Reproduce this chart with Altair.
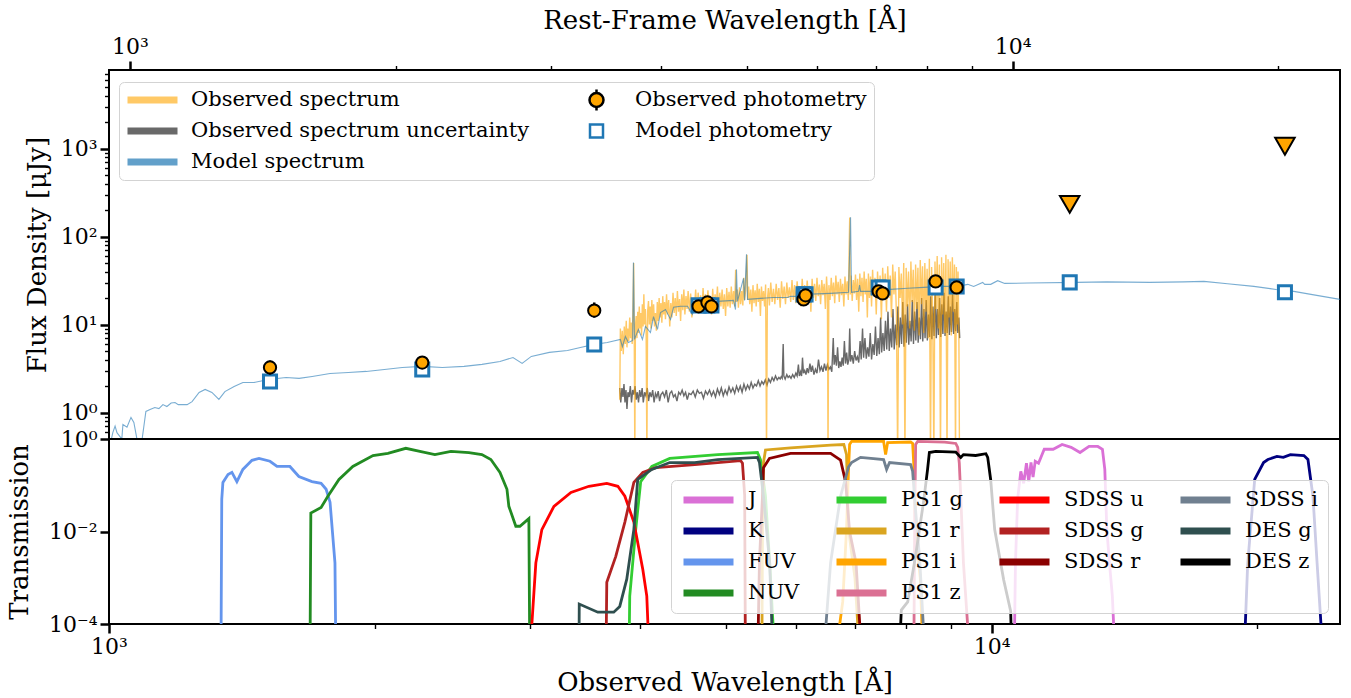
import altair as alt
import pandas as pd

FONT = "DejaVu Serif"
REDSHIFT = 0.056
WAVE_RANGE = [1000, 24810]
FLUX_RANGE = [0.5, 7800]
TRANS_RANGE = [1e-4, 1.0]

# ---------------- spectra (wavelength [Å], flux density [μJy]) ----------------
obs_spectrum = [
    (3790, 1.4), (3796, 9.0), (3805, 5.0), (3815, 8.5), (3825, 4.6), (3835, 9.5), (3845, 6.0),
    (3855, 11.0), (3862, 5.5), (3870, 9.0), (3880, 6.5), (3890, 12.0), (3898, 7.0), (3905, 10.5),
    (3915, 6.0), (3922, 13.0), (3930, 50.0), (3936, 8.0), (3942, 0.3), (3948, 9.5), (3956, 12.5),
    (3964, 7.0), (3972, 14.0), (3980, 8.0), (3988, 16.0), (3996, 9.0), (4004, 13.5), (4012, 7.5),
    (4020, 17.0), (4028, 9.5), (4036, 22.0), (4044, 10.0), (4052, 15.0), (4060, 8.5), (4068, 0.3),
    (4076, 14.0), (4085, 18.5), (4094, 10.0), (4103, 16.0), (4112, 9.0), (4121, 19.0), (4130, 11.0),
    (4140, 17.0), (4150, 9.5), (4160, 13.5), (4170, 8.5), (4180, 18.0), (4190, 11.0), (4200, 20.0),
    (4210, 12.0), (4220, 17.5), (4230, 10.5), (4240, 21.0), (4250, 13.0), (4260, 18.0), (4270, 11.5),
    (4282, 22.0), (4294, 13.0), (4306, 19.0), (4318, 9.5), (4330, 17.5), (4342, 12.0), (4355, 23.0),
    (4368, 13.5), (4380, 20.0), (4392, 12.5), (4405, 24.0), (4418, 14.0), (4430, 19.5), (4442, 11.0),
    (4455, 22.0), (4468, 14.5), (4480, 25.0), (4492, 13.0), (4505, 21.0), (4518, 15.0), (4530, 24.0),
    (4545, 14.0), (4560, 22.5), (4575, 12.0), (4590, 20.0), (4605, 15.5), (4620, 25.0), (4635, 14.0),
    (4650, 23.0), (4665, 15.0), (4680, 21.5), (4695, 13.5), (4710, 26.0), (4725, 15.5), (4740, 22.0),
    (4755, 14.0), (4770, 24.5), (4785, 16.0), (4800, 21.0), (4815, 13.0), (4830, 25.5), (4845, 15.0),
    (4860, 22.0), (4875, 16.5), (4890, 27.0), (4905, 14.5), (4920, 23.0), (4935, 16.0), (4950, 25.0),
    (4965, 15.0), (4980, 22.0), (4995, 12.5), (5010, 26.0), (5025, 16.0), (5040, 23.5), (5055, 15.5),
    (5070, 27.0), (5085, 17.0), (5100, 24.0), (5115, 16.0), (5128, 42.0), (5135, 18.0), (5150, 25.0),
    (5165, 15.5), (5180, 26.5), (5195, 17.0), (5210, 24.0), (5225, 16.5), (5238, 34.0), (5250, 19.0),
    (5264, 25.0), (5282, 62.0), (5292, 19.0), (5305, 27.0), (5320, 17.0), (5335, 25.0), (5350, 14.0),
    (5365, 28.0), (5380, 17.5), (5395, 24.5), (5410, 16.0), (5425, 29.0), (5440, 18.0), (5455, 25.5),
    (5470, 12.5), (5485, 27.0), (5500, 18.5), (5515, 24.0), (5530, 16.0), (5545, 28.5), (5558, 0.3),
    (5570, 19.0), (5585, 26.0), (5600, 16.5), (5620, 30.0), (5640, 18.0), (5660, 25.5), (5680, 17.0),
    (5700, 29.0), (5720, 19.0), (5740, 26.0), (5760, 15.5), (5780, 31.0), (5800, 19.5), (5820, 27.0),
    (5840, 17.0), (5860, 30.0), (5880, 20.0), (5900, 26.5), (5920, 18.0), (5940, 32.0), (5960, 19.0),
    (5980, 28.0), (6000, 17.5), (6020, 31.0), (6040, 20.0), (6060, 27.0), (6080, 16.0), (6100, 33.0),
    (6120, 20.5), (6140, 28.0), (6160, 18.0), (6180, 31.5), (6200, 21.0), (6220, 27.5), (6240, 14.0),
    (6260, 33.0), (6280, 20.0), (6300, 29.0), (6320, 18.5), (6340, 34.0), (6360, 21.0), (6380, 28.5),
    (6400, 17.0), (6420, 32.0), (6440, 21.5), (6460, 29.0), (6480, 15.0), (6500, 35.0), (6515, 22.0),
    (6525, 0.3), (6540, 28.0), (6560, 19.0), (6580, 34.0), (6600, 21.0), (6620, 30.0), (6640, 17.5),
    (6660, 36.0), (6680, 22.0), (6700, 30.5), (6720, 18.0), (6740, 33.0), (6760, 21.5), (6780, 29.0),
    (6800, 16.0), (6820, 35.0), (6840, 22.0), (6860, 31.0), (6880, 19.0), (6905, 164.0), (6915, 22.0),
    (6930, 36.0), (6950, 18.5), (6970, 32.0), (6990, 22.5), (7010, 37.0), (7030, 19.0), (7050, 33.0),
    (7070, 14.0), (7090, 38.0), (7110, 21.0), (7130, 34.0), (7150, 18.0), (7170, 40.0), (7190, 22.0),
    (7210, 33.0), (7230, 12.0), (7250, 38.0), (7270, 20.0), (7290, 35.0), (7310, 16.0), (7330, 42.0),
    (7350, 21.0), (7375, 34.0), (7400, 13.0), (7425, 40.0), (7450, 20.0), (7475, 36.0), (7500, 11.5),
    (7525, 44.0), (7550, 21.0), (7575, 38.0), (7600, 14.0), (7625, 46.0), (7650, 20.0), (7675, 36.0),
    (7700, 12.0), (7725, 48.0), (7750, 22.0), (7775, 40.0), (7800, 13.0), (7825, 0.3), (7850, 45.0),
    (7875, 20.0), (7900, 38.0), (7925, 10.0), (7950, 50.0), (7975, 0.3), (8000, 44.0), (8025, 16.0),
    (8050, 40.0), (8075, 9.0), (8100, 52.0), (8125, 18.0), (8150, 42.0), (8175, 8.5), (8200, 48.0),
    (8225, 15.0), (8250, 44.0), (8275, 7.5), (8300, 54.0), (8325, 17.0), (8350, 46.0), (8375, 8.0),
    (8400, 50.0), (8425, 14.0), (8450, 43.0), (8475, 7.0), (8500, 56.0), (8525, 0.3), (8550, 45.0),
    (8575, 12.0), (8600, 0.3), (8625, 52.0), (8650, 15.0), (8675, 60.0), (8700, 9.0), (8725, 48.0),
    (8750, 0.3), (8775, 58.0), (8800, 13.0), (8825, 50.0), (8850, 8.0), (8875, 62.0), (8900, 0.3),
    (8925, 55.0), (8950, 12.0), (8975, 52.0), (9000, 7.5), (9025, 58.0), (9050, 14.0), (9075, 48.0),
    (9100, 0.3), (9120, 45.0), (9140, 10.0), (9160, 40.0), (9180, 8.0), (9195, 0.3),
]

obs_uncertainty = [
    (3790, 1.9), (3800, 1.3), (3812, 1.9), (3822, 1.5), (3832, 2.1), (3842, 1.3), (3852, 1.8),
    (3862, 1.1), (3872, 1.7), (3884, 1.5), (3896, 2.0), (3908, 1.3), (3920, 1.8), (3932, 1.6),
    (3944, 2.0), (3956, 1.4), (3968, 1.7), (3980, 1.3), (3992, 1.8), (4005, 1.5), (4018, 1.9),
    (4030, 1.3), (4044, 1.7), (4058, 1.55), (4072, 1.9), (4086, 1.35), (4100, 1.7), (4115, 1.5),
    (4130, 1.8), (4145, 1.3), (4160, 1.65), (4175, 1.5), (4190, 1.75), (4205, 1.35), (4220, 1.6),
    (4240, 1.7), (4260, 1.5), (4280, 1.8), (4300, 1.3), (4320, 1.65), (4340, 1.75), (4360, 1.5),
    (4380, 1.6), (4400, 1.35), (4420, 1.7), (4440, 1.6), (4460, 1.8), (4480, 1.55), (4500, 1.7),
    (4520, 1.4), (4540, 1.65), (4565, 1.6), (4590, 1.75), (4615, 1.5), (4640, 1.8), (4665, 1.65),
    (4690, 1.7), (4715, 1.45), (4740, 1.75), (4765, 1.6), (4790, 1.8), (4815, 1.55), (4840, 1.75),
    (4865, 1.5), (4890, 1.85), (4915, 1.6), (4940, 1.9), (4965, 1.55), (4990, 1.8), (5015, 1.6),
    (5040, 1.95), (5065, 1.7), (5090, 1.9), (5115, 1.65), (5140, 2.0), (5165, 1.75), (5190, 2.0),
    (5215, 1.7), (5240, 2.1), (5265, 1.8), (5290, 2.05), (5315, 1.85), (5340, 2.2), (5365, 1.9),
    (5390, 2.1), (5415, 2.0), (5440, 2.3), (5465, 2.0), (5490, 2.25), (5515, 2.1), (5540, 2.35),
    (5565, 2.05), (5590, 2.4), (5615, 2.2), (5640, 2.5), (5665, 2.3), (5690, 2.6), (5715, 2.35),
    (5740, 2.5), (5760, 2.4), (5775, 2.55), (5790, 2.45), (5805, 6.0), (5815, 2.6), (5835, 2.4),
    (5860, 2.7), (5880, 2.5), (5900, 2.6), (5925, 2.45), (5950, 2.7), (5975, 2.5), (6000, 2.8),
    (6020, 2.6), (6040, 3.5), (6055, 2.6), (6075, 2.9), (6090, 2.6), (6105, 4.2), (6120, 2.8),
    (6140, 3.0), (6160, 2.7), (6180, 3.2), (6200, 2.8), (6225, 3.6), (6245, 2.9), (6265, 3.4),
    (6290, 2.7), (6315, 3.1), (6340, 2.8), (6365, 4.0), (6390, 3.0), (6415, 3.3), (6440, 2.9),
    (6465, 3.6), (6490, 3.0), (6515, 3.5), (6540, 3.1), (6565, 3.3), (6590, 2.9), (6615, 7.0),
    (6630, 3.5), (6650, 4.5), (6670, 3.4), (6690, 5.5), (6710, 3.2), (6730, 3.8), (6750, 3.3),
    (6770, 4.2), (6790, 3.4), (6810, 6.5), (6830, 3.6), (6850, 4.8), (6870, 3.5), (6890, 4.0),
    (6905, 9.0), (6920, 3.8), (6945, 4.5), (6970, 3.6), (6995, 5.0), (7020, 3.9), (7045, 4.3),
    (7070, 3.7), (7095, 6.5), (7115, 4.0), (7140, 9.0), (7160, 4.2), (7185, 7.0), (7210, 4.1),
    (7235, 5.5), (7260, 4.3), (7285, 8.0), (7310, 4.0), (7335, 6.0), (7360, 4.5), (7385, 9.5),
    (7410, 4.4), (7435, 7.0), (7460, 4.6), (7485, 12.0), (7505, 4.8), (7530, 8.0), (7555, 5.0),
    (7580, 11.0), (7605, 5.2), (7630, 14.0), (7655, 5.0), (7680, 9.0), (7705, 5.5), (7730, 15.0),
    (7755, 5.2), (7780, 10.0), (7805, 5.8), (7830, 16.0), (7855, 5.5), (7880, 12.0), (7905, 6.0),
    (7930, 18.0), (7955, 5.6), (7980, 13.0), (8005, 6.2), (8030, 17.0), (8055, 5.9), (8080, 11.0),
    (8105, 6.4), (8130, 19.0), (8155, 6.0), (8180, 14.0), (8205, 6.6), (8230, 18.0), (8255, 6.2),
    (8280, 12.0), (8305, 6.8), (8330, 20.0), (8355, 6.4), (8380, 15.0), (8405, 7.0), (8430, 19.0),
    (8455, 6.6), (8480, 13.0), (8505, 7.2), (8530, 21.0), (8555, 6.8), (8580, 16.0), (8605, 7.4),
    (8630, 22.0), (8655, 7.0), (8680, 15.0), (8705, 7.6), (8730, 20.0), (8755, 7.2), (8780, 17.0),
    (8805, 7.8), (8830, 23.0), (8855, 7.4), (8880, 14.0), (8905, 8.0), (8930, 21.0), (8955, 7.6),
    (8980, 16.0), (9005, 8.2), (9030, 22.0), (9055, 7.8), (9080, 15.0), (9105, 8.4), (9130, 18.0),
    (9155, 8.0), (9180, 12.0), (9200, 7.0),
]

model_spectrum = [
    (1000, 0.38), (1010, 0.59), (1016, 0.70), (1021, 0.59), (1034, 0.50), (1037, 0.73), (1048, 0.68),
    (1059, 0.88), (1067, 0.77), (1076, 0.49), (1090, 0.49), (1101, 1.03), (1113, 1.08), (1127, 1.14),
    (1139, 1.11), (1151, 1.23), (1163, 1.17), (1176, 1.28), (1188, 1.30), (1198, 1.23), (1226, 1.23),
    (1242, 1.33), (1265, 1.69), (1285, 1.83), (1308, 1.69), (1332, 1.41), (1353, 1.73), (1386, 1.98),
    (1418, 2.19), (1460, 2.19), (1515, 2.37), (1587, 2.50), (1642, 2.44), (1699, 2.57), (1780, 2.78),
    (1867, 2.85), (1956, 2.93), (2051, 3.08), (2149, 3.25), (2264, 3.34), (2386, 3.25), (2525, 3.34),
    (2646, 3.52), (2773, 3.80), (2869, 4.22), (2938, 3.61), (3009, 4.34), (3154, 4.82), (3307, 5.07),
    (3420, 5.49), (3547, 5.94), (3668, 6.25), (3796, 6.77), (3816, 5.6), (3846, 7.3), (3876, 6.25),
    (3920, 6.6), (3928, 50.8), (3938, 6.77), (3979, 8.8), (4021, 6.77), (4053, 9.5), (4106, 8.1),
    (4139, 12.3), (4182, 8.8), (4215, 13.7), (4271, 14.8), (4327, 11.4), (4361, 15.7), (4441, 16.1),
    (4523, 16.1), (4581, 13.0), (4617, 16.5), (4890, 18.3), (5099, 18.8), (5126, 14.8), (5139, 42.3),
    (5152, 18.3), (5234, 33.5), (5248, 18.8), (5275, 62.7), (5289, 19.3), (5471, 19.8), (5660, 20.3),
    (5871, 20.3), (5918, 20.9), (6075, 20.9), (6122, 22.0), (6569, 22.6), (6884, 23.2), (6920, 165.0),
    (6938, 23.2), (7066, 23.8), (7085, 28.0), (7103, 23.8), (7425, 23.8), (7682, 25.1), (8033, 25.8),
    (8376, 26.4), (8754, 27.1), (9152, 27.1), (9395, 28.6), (9541, 27.1), (9768, 30.1), (9820, 28.6),
    (9975, 28.6), (10158, 31.5), (10345, 29.3), (11000, 29.6), (12485, 30.1), (13500, 30.5),
    (15107, 30.1), (16500, 30.5), (17396, 30.9), (18500, 29.0), (19815, 27.1), (21000, 25.0),
    (21995, 23.8), (23000, 22.0), (24810, 19.3),
]

# ---------------- photometry ----------------
phot_bands = ["FUV", "NUV", "SDSS u", "SDSS g", "DES g", "PS1 g", "SDSS r", "PS1 r",
              "SDSS i", "PS1 i", "PS1 z", "DES z"]
phot_wave = [1522, 2264, 3546, 4655, 4764, 4814, 6122, 6154, 7446, 7524, 8640, 9127]
phot_flux = [3.25, 3.70, 14.4, 16.1, 17.8, 16.1, 19.3, 21.5, 23.8, 22.6, 30.9, 26.4]
phot_lo = [2.7, 3.25, 12.0, 15.3, 17.0, 15.3, 18.4, 20.6, 22.7, 21.6, 29.5, 25.2]
phot_hi = [3.9, 4.2, 17.8, 16.9, 18.6, 16.9, 20.2, 22.4, 24.9, 23.6, 32.3, 27.6]

limit_bands = ["J", "K"]
limit_wave = [12258, 21490]
limit_flux = [232, 1062]

model_phot_wave = phot_wave + limit_wave
model_phot_flux = [2.25, 3.08, 5.94, 16.5, 16.5, 16.5, 22.0, 22.0, 26.4, 26.4, 26.4, 27.1, 30.1, 23.2]

# ---------------- filter transmission curves (wavelength [Å], transmission) ----------------
filters = {
    "J": [(10600, 1e-5), (10640, 0.002), (10700, 0.05), (10790, 0.2), (10870, 0.11), (10950, 0.3),
          (11015, 0.12), (11080, 0.31), (11140, 0.15), (11203, 0.33), (11300, 0.30), (11470, 0.60),
          (11740, 0.60), (12017, 0.76), (12303, 0.66), (12593, 0.51), (12892, 0.69), (13190, 0.69),
          (13350, 0.60), (13433, 0.22), (13504, 0.011), (13600, 0.002), (13700, 4e-4), (13820, 1e-5)],
    "K": [(19290, 1e-5), (19500, 0.002), (19860, 0.134), (20326, 0.31), (20557, 0.36), (21047, 0.42),
          (21400, 0.40), (21800, 0.46), (22580, 0.44), (22820, 0.36), (23120, 0.058), (23370, 0.0021),
          (23790, 1e-5)],
    "FUV": [(1339, 1e-5), (1342, 0.05), (1346, 0.115), (1364, 0.17), (1378, 0.19), (1396, 0.12),
            (1418, 0.22), (1452, 0.345), (1479, 0.38), (1522, 0.33), (1550, 0.255), (1603, 0.255),
            (1641, 0.155), (1698, 0.12), (1739, 0.11), (1762, 0.082), (1780, 0.043), (1803, 0.0021),
            (1808, 1e-5)],
    "NUV": [(1689, 1e-5), (1693, 0.025), (1739, 0.033), (1770, 0.058), (1822, 0.134), (1889, 0.255),
            (1991, 0.44), (2070, 0.49), (2169, 0.63), (2250, 0.54), (2340, 0.46), (2440, 0.54),
            (2557, 0.51), (2645, 0.46), (2708, 0.36), (2773, 0.19), (2824, 0.082), (2838, 0.035),
            (2890, 0.013), (2921, 0.013), (2990, 0.019), (2998, 1e-5)],
    "PS1 g": [(3881, 1e-5), (3890, 4e-4), (3951, 0.011), (4003, 0.12), (4121, 0.255), (4318, 0.38),
              (4894, 0.46), (5428, 0.51), (5471, 0.36), (5543, 0.058), (5604, 0.0021), (5690, 1e-5)],
    "PS1 r": [(5490, 1e-5), (5500, 0.011), (5514, 0.31), (5543, 0.58), (5918, 0.64), (6569, 0.74),
              (6800, 0.76), (6848, 0.46), (6884, 0.011), (7000, 0.001), (7103, 1e-5)],
    "PS1 i": [(6620, 1e-5), (6780, 3e-4), (6848, 0.011), (6884, 0.22), (6903, 0.76), (6940, 0.89),
              (7543, 0.89), (7583, 0.46), (7623, 0.84), (8094, 0.86), (8137, 0.80), (8160, 0.30),
              (8201, 0.01), (8300, 0.001), (8372, 1e-5)],
    "PS1 z": [(8160, 1e-5), (8180, 0.011), (8201, 0.76), (8245, 0.89), (8846, 0.86), (9106, 0.80),
              (9152, 0.66), (9190, 0.30), (9225, 0.058), (9290, 0.0021), (9467, 1e-5)],
    "SDSS u": [(2990, 1e-5), (3045, 0.0021), (3093, 0.011), (3192, 0.035), (3337, 0.07), (3497, 0.095),
               (3664, 0.11), (3771, 0.095), (3841, 0.058), (3932, 0.016), (4025, 0.0015), (4067, 4e-4),
               (4099, 1e-5)],
    "SDSS g": [(3655, 1e-5), (3664, 8e-4), (3751, 0.0029), (3841, 0.016), (3932, 0.115), (4025, 0.19),
               (4164, 0.24), (4609, 0.28), (5196, 0.34), (5220, 0.30), (5250, 0.06), (5261, 1e-5)],
    "SDSS r": [(5428, 1e-5), (5457, 0.0024), (5500, 0.058), (5514, 0.24), (5600, 0.38), (5918, 0.49),
               (6569, 0.49), (6742, 0.35), (6831, 0.12), (6903, 0.01), (7020, 0.0021), (7140, 1e-5)],
    "SDSS i": [(6433, 1e-5), (6569, 0.0021), (6742, 0.058), (6884, 0.25), (6939, 0.31), (7103, 0.40),
               (7543, 0.36), (7603, 0.22), (7662, 0.31), (8094, 0.28), (8137, 0.20), (8180, 0.05),
               (8288, 0.0025), (8420, 1e-5)],
    "DES g": [(3407, 1e-5), (3410, 2.7e-4), (3579, 1.8e-4), (3731, 1.8e-4), (3790, 2.4e-4), (3860, 9.3e-4),
              (3932, 0.011), (3972, 0.134), (4121, 0.22), (4318, 0.31), (4609, 0.31), (4894, 0.36),
              (5428, 0.40), (5457, 0.31), (5514, 0.058), (5604, 0.0021), (5660, 1e-5)],
    "DES z": [(7845, 1e-5), (7900, 2e-4), (8033, 3e-4), (8200, 0.003), (8380, 0.05), (8460, 0.22),
              (8500, 0.51), (8640, 0.54), (9106, 0.52), (9225, 0.40), (9290, 0.46), (9592, 0.44),
              (9850, 0.48), (9897, 0.40), (9975, 0.13), (10079, 0.011), (10318, 9e-4), (10508, 1.9e-4),
              (10550, 1e-5)],
}

filter_colors = {
    "J": "#DA70D6", "K": "#000080", "FUV": "#6495ED", "NUV": "#228B22",
    "PS1 g": "#32CD32", "PS1 r": "#DAA520", "PS1 i": "#FFA500", "PS1 z": "#DB7093",
    "SDSS u": "#FF0000", "SDSS g": "#B22222", "SDSS r": "#8B0000", "SDSS i": "#708090",
    "DES g": "#2F4F4F", "DES z": "#000000",
}
# order of the legend entries, chosen so that the vertical legend grid reads
# J, K, FUV, NUV down the first column, PS1 down the second, and so on
filter_legend_order = ["J", "K", "FUV", "DES z",
                       "PS1 g", "PS1 r", "PS1 i", "NUV",
                       "SDSS u", "SDSS g", "SDSS r", "PS1 z",
                       "SDSS i", "DES g"]

# ---------------- data frames ----------------
spec_df = pd.DataFrame(obs_spectrum, columns=["lam", "flux"])
unc_df = pd.DataFrame(obs_uncertainty, columns=["lam", "flux"])
model_df = pd.DataFrame(model_spectrum, columns=["lam", "flux"])
phot_df = pd.DataFrame({"band": phot_bands, "lam": phot_wave, "flux": phot_flux,
                        "lo": phot_lo, "hi": phot_hi})
model_phot_df = pd.DataFrame({"lam": model_phot_wave, "flux": model_phot_flux})
limit_df = pd.DataFrame({"band": limit_bands, "lam": limit_wave, "flux": limit_flux})
filt_df = pd.concat(
    [pd.DataFrame(pts, columns=["lam", "T"]).assign(filter=name) for name, pts in filters.items()],
    ignore_index=True,
)

# ---------------- axes ----------------
def power_labels(mapping):
    expr = ""
    for v, s in mapping.items():
        expr += f"datum.value === {v} ? '{s}' : "
    return expr + "''"


def major_minor(majors, major, minor):
    return {"condition": {"test": f"indexof({majors}, datum.value) >= 0", "value": major},
            "value": minor}


flux_majors = [1, 10, 100, 1000]
flux_ticks = [0.6, 0.7, 0.8, 0.9] + [m * d for d in flux_majors for m in range(1, 10) if m * d <= 7000]
flux_axis = alt.Axis(
    values=flux_ticks,
    labelExpr=power_labels({1: "10⁰", 10: "10¹", 100: "10²", 1000: "10³"}),
    tickSize=major_minor(flux_majors, 9, 4.5),
    tickWidth=major_minor(flux_majors, 2.5, 1.4),
    title="Flux Density [μJy]", titleX=-72, titleBaseline="middle",
)

wave_majors = [1000, 10000]
wave_ticks = [1000 * m for m in range(1, 10)] + [10000, 20000]
wave_labels = power_labels({1000: "10³", 10000: "10⁴"})

bottom_x_axis = alt.Axis(
    values=wave_ticks, labelExpr=wave_labels,
    tickSize=major_minor(wave_majors, 9, 4.5),
    tickWidth=major_minor(wave_majors, 2.5, 1.4),
    title="Observed Wavelength [Å]", titleY=58, titleBaseline="middle",
)
rest_axis = alt.Axis(
    orient="top", values=wave_ticks, labelExpr=wave_labels,
    tickSize=major_minor(wave_majors, 9, 4.5),
    tickWidth=major_minor(wave_majors, 2.5, 1.4),
    title="Rest-Frame Wavelength [Å]", titleY=-50, titleBaseline="middle",
)
trans_axis = alt.Axis(
    values=[1e-4, 1e-2, 1],
    labelExpr=power_labels({0.0001: "10⁻⁴", 0.01: "10⁻²", 1: "10⁰"}),
    tickSize=9, tickWidth=2.5,
    title="Transmission", titleX=-90, titleBaseline="middle",
)

X_OBS = alt.X("lam:Q", scale=alt.Scale(type="log", domain=WAVE_RANGE), axis=None)
FLUX_SCALE = alt.Scale(type="log", domain=FLUX_RANGE)


def flux_y(field):
    return alt.Y(f"{field}:Q", scale=FLUX_SCALE, axis=flux_axis)


# ---------------- top panel ----------------
unc_line = alt.Chart(unc_df).mark_line(color="#696969", strokeWidth=1.4, clip=True).encode(
    x=X_OBS, y=flux_y("flux"))
spec_line = alt.Chart(spec_df).mark_line(color="#FFA500", opacity=0.6, strokeWidth=1.4, clip=True).encode(
    x=X_OBS, y=flux_y("flux"))
model_line = alt.Chart(model_df).mark_line(color="#1f77b4", opacity=0.6, strokeWidth=1.1, clip=True).encode(
    x=X_OBS, y=flux_y("flux"))
model_pts = alt.Chart(model_phot_df).mark_point(
    shape="square", size=170, fill="white", stroke="#1f77b4", strokeWidth=3, opacity=1, filled=False
).encode(x=X_OBS, y=flux_y("flux"))
err_bars = alt.Chart(phot_df).mark_rule(color="black", strokeWidth=2.5).encode(
    x=X_OBS, y=flux_y("lo"), y2="hi:Q")
obs_pts = alt.Chart(phot_df).mark_point(
    shape="circle", size=150, fill="#FFA500", stroke="black", strokeWidth=2, opacity=1, filled=True
).encode(x=X_OBS, y=flux_y("flux"))
limit_pts = alt.Chart(limit_df).mark_point(
    shape="triangle-down", size=380, fill="#FFA500", stroke="black", strokeWidth=2, opacity=1, filled=True
).encode(x=X_OBS, y=flux_y("flux"))

# legend entries: filled bars for the spectra, markers for the photometry
BAR = "M-1,-0.14H1V0.14H-1Z"
DOT = "M-0.28,0A0.28,0.28,0,1,1,0.28,0A0.28,0.28,0,1,1,-0.28,0ZM0,-0.28V-0.42M0,0.28V0.42"
SQUARE = "M-0.26,-0.26H0.26V0.26H-0.26Z"
legend_entries = ["Observed spectrum", "Observed spectrum uncertainty", "Model spectrum",
                  "Observed photometry", "Model photometry"]
legend_shapes = [BAR, BAR, BAR, DOT, SQUARE]
legend_fills = ["#FFC966", "#696969", "#62A0CA", "#FFA500", "#FFFFFF"]
legend_strokes = ["transparent", "transparent", "transparent", "#000000", "#1f77b4"]

top_legend = alt.Legend(
    title=None, orient="none", legendX=10, legendY=12, columns=2, columnPadding=40,
    rowPadding=9, padding=7, clipHeight=22, symbolSize=2500, symbolStrokeWidth=2.5,
    labelFont=FONT, labelFontSize=21, labelOffset=12, labelLimit=600,
    fillColor="rgba(255,255,255,0.8)", strokeColor="#d3d3d3", cornerRadius=5,
)
legend_layer = alt.Chart(pd.DataFrame({"entry": legend_entries})).transform_filter("false").mark_point(
    opacity=1
).encode(
    shape=alt.Shape("entry:N", scale=alt.Scale(domain=legend_entries, range=legend_shapes), legend=top_legend),
    fill=alt.Fill("entry:N", scale=alt.Scale(domain=legend_entries, range=legend_fills), legend=top_legend),
    stroke=alt.Stroke("entry:N", scale=alt.Scale(domain=legend_entries, range=legend_strokes), legend=top_legend),
)

observed_frame = alt.layer(unc_line, spec_line, model_line, model_pts, err_bars, obs_pts,
                           limit_pts, legend_layer)

# rest-frame wavelength axis along the top edge
rest_layer = alt.Chart(phot_df).transform_calculate(
    rest=f"datum.lam / {1 + REDSHIFT}"
).mark_point(opacity=0).encode(
    x=alt.X("rest:Q", scale=alt.Scale(type="log",
                                      domain=[WAVE_RANGE[0] / (1 + REDSHIFT), WAVE_RANGE[1] / (1 + REDSHIFT)]),
            axis=rest_axis)
)

top = alt.layer(observed_frame, rest_layer).resolve_scale(x="independent").properties(width=1231, height=369)

# ---------------- bottom panel ----------------
filter_legend = alt.Legend(
    title=None, orient="none", legendX=562, legendY=41, columns=4, columnPadding=33,
    rowPadding=9, padding=9, clipHeight=22, symbolType="stroke", symbolSize=2500, symbolStrokeWidth=7,
    labelFont=FONT, labelFontSize=21, labelOffset=11, labelLimit=600,
    fillColor="rgba(255,255,255,0.8)", strokeColor="#d3d3d3", cornerRadius=5,
)
bottom = alt.Chart(filt_df).mark_line(strokeWidth=2.8, clip=True).encode(
    x=alt.X("lam:Q", scale=alt.Scale(type="log", domain=WAVE_RANGE), axis=bottom_x_axis),
    y=alt.Y("T:Q", scale=alt.Scale(type="log", domain=TRANS_RANGE), axis=trans_axis),
    stroke=alt.Stroke("filter:N",
                      scale=alt.Scale(domain=filter_legend_order,
                                      range=[filter_colors[f] for f in filter_legend_order]),
                      legend=filter_legend),
).properties(width=1231, height=185)

chart = alt.vconcat(top, bottom, spacing=0, bounds="flush").resolve_scale(
    stroke="independent", fill="independent", shape="independent"
).properties(
    padding={"left": 4, "top": 6, "right": 10, "bottom": 0},
    background="white",
).configure_axis(
    labelFont=FONT, labelFontSize=22, labelColor="black", labelPadding=3, labelFlush=False,
    titleFont=FONT, titleFontSize=26, titleFontWeight="normal", titleColor="black",
    tickColor="black", domain=False, grid=False,
).configure_view(stroke="black", strokeWidth=2)

chart.save("out.html", embed_options={"renderer": "svg", "actions": False})
